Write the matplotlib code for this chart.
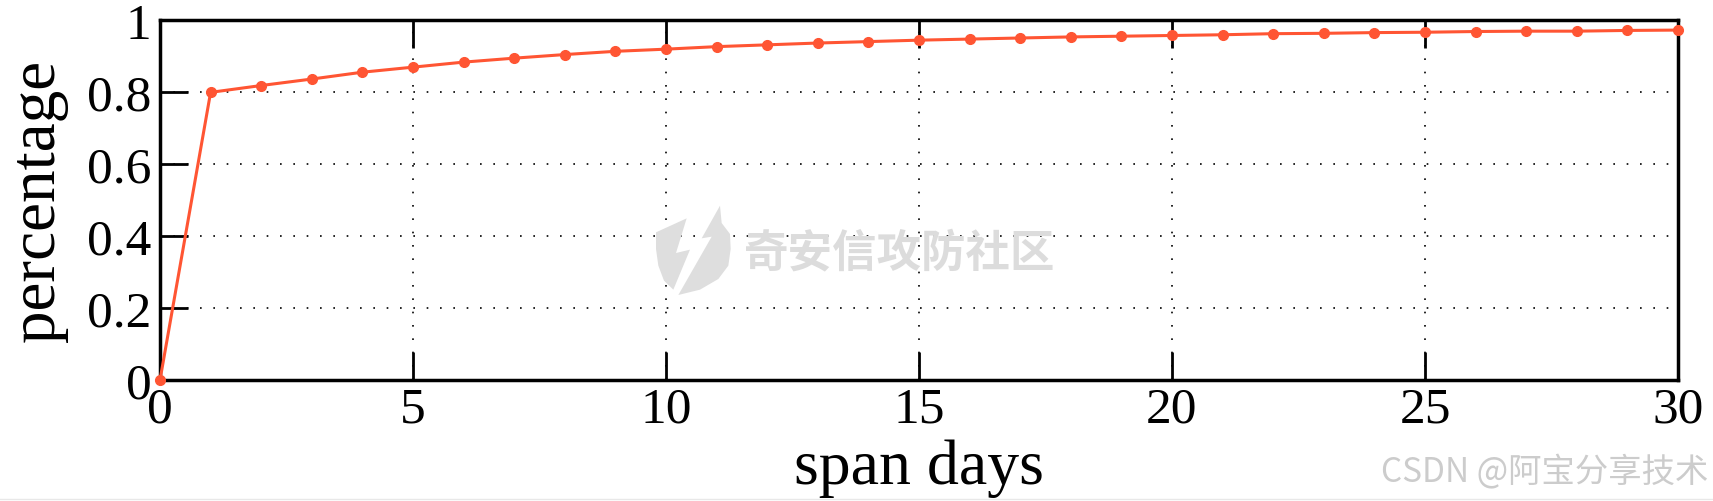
import matplotlib
matplotlib.use("Agg")
import matplotlib.pyplot as plt
from matplotlib.patches import Polygon
import numpy as np

days = list(range(0, 31))
percentage = [0.0, 0.799, 0.818, 0.836, 0.855, 0.869, 0.883, 0.894, 0.904, 0.913,
              0.919, 0.926, 0.931, 0.936, 0.940, 0.944, 0.947, 0.950, 0.953, 0.955,
              0.957, 0.959, 0.962, 0.963, 0.965, 0.966, 0.968, 0.969, 0.969, 0.971,
              0.972]
xticks = [0, 5, 10, 15, 20, 25, 30]
yticks = [0, 0.2, 0.4, 0.6, 0.8, 1]
ytick_labels = ["0", "0.2", "0.4", "0.6", "0.8", "1"]

plt.rcParams['font.family'] = ['Liberation Serif', 'DejaVu Serif']

W, H = 1713, 502
fig = plt.figure(figsize=(W/100, H/100), dpi=100)
ax = fig.add_axes([160/W, 1-381/H, (1678-160)/W, (381-21)/H])

ax.plot(days, percentage, color='#ff5533', lw=2.2, marker='o', markersize=7,
        clip_on=False, zorder=3)
ax.set_xlim(0, 30)
ax.set_ylim(0, 1)
ax.set_xticks(xticks)
ax.set_yticks(yticks)
ax.set_yticklabels(ytick_labels)
ax.tick_params(axis='both', direction='in', length=20, width=2, labelsize=37,
               top=True, right=False)
ax.tick_params(axis='x', pad=4)
ax.tick_params(axis='y', pad=6)
for s in ax.spines.values():
    s.set_linewidth(2.5)
ax.grid(True, color='black', linestyle=(0, (1, 7)), linewidth=1.2)
ax.set_xlabel('span days', fontsize=46, labelpad=5)
ax.set_ylabel('percentage', fontsize=47, labelpad=14)

# watermark logo (shield split by a lightning bolt), in figure pixels
def px(pts):
    return [((640 + zx/3)/W, 1 - (200 + zy/3)/H) for zx, zy in pts]
left_piece = [(48,100),(140,58),(108,162),(150,152),(100,272),(72,245),(55,200),(48,150)]
right_piece = [(240,20),(185,118),(215,113),(115,288),(180,272),(235,240),(265,200),(272,150),(270,105),(245,72)]
for pts in (left_piece, right_piece):
    fig.patches.append(Polygon(px(pts), closed=True, transform=fig.transFigure,
                               facecolor='#dedede', edgecolor='none', zorder=0))

fig.text(900/W, 1-253/H, '奇安信攻防社区', fontsize=32, color='#dcdcdc',
         family=['Noto Sans CJK SC'], fontweight='bold', ha='center', va='center', zorder=0)
fig.text(1708/W, 1-473/H, 'CSDN @阿宝分享技术', fontsize=24, color='#cccccc',
         family=['Noto Sans CJK SC', 'DejaVu Sans'], ha='right', va='center')
fig.add_artist(plt.Line2D([0, 1], [1-500/H, 1-500/H], transform=fig.transFigure,
                          color='#e8e8e8', lw=1))

fig.savefig('out.png', dpi=100)
